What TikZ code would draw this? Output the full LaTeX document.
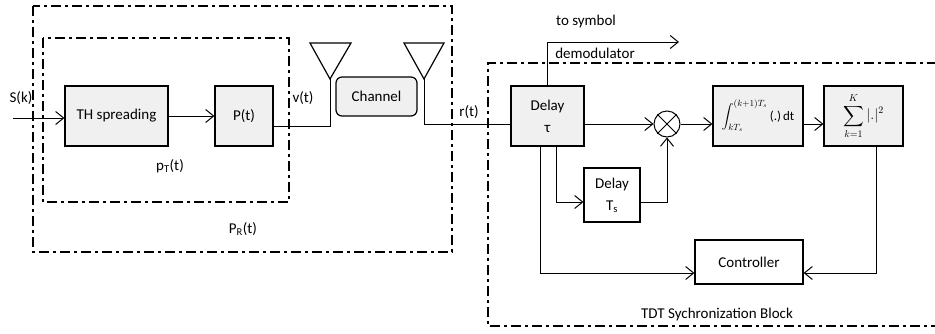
\documentclass[tikz,border=0pt]{standalone}
\usepackage{fontspec}
\setmainfont{Carlito}
\usepackage{amsmath}
\usetikzlibrary{arrows.meta}

\begin{document}
\begin{tikzpicture}[x=1pt,y=-1pt,
							every node/.style={font=\fontsize{15}{22}\selectfont,inner sep=1pt},
							blk/.style={draw,line width=1.2pt,fill=gray!12,align=center},
							wblk/.style={blk,fill=white},
							wire/.style={line width=1pt},
							sig/.style={wire,-{Straight Barb[length=8pt,width=13pt]}},
							%dashbox/.style={dashed},
							dashbox/.style={line width=2.6pt,dash pattern=on 10pt off 4pt on 3pt off 4pt}]
			\useasboundingbox (0,0) rectangle (935,333);
			% dash-dot frames
			\draw[dashbox] (33,6) rectangle (452,252);
			\draw[dashbox] (43,38) rectangle (289,202);
			\draw[dashbox] (937,63) -- (488,63) -- (488,326) -- (937,326);
			% transmitter
			\node[blk,minimum width=103,minimum height=60] (th) at (116.5,116) {TH spreading};
			\node[blk,minimum width=58,minimum height=60] (pt) at (244,116) {P(t)};
			\node[blk,rounded corners=6pt,minimum width=81,minimum height=39] (chan) at (376.5,96.5) {Channel};
			\coordinate (in) at (13,118);
			\coordinate (ant1) at (330,79);
			\coordinate (ant2) at (424,79);
			\draw[line width=1.2pt] (310,43) -- (351,43) -- (ant1) -- cycle;
			\draw[line width=1.2pt] (404,43) -- (444,43) -- (ant2) -- cycle;
			% receiver
			\node[blk,minimum width=73,minimum height=60] (delay) at (547.5,116) {Delay\\τ};
			\node[draw,circle,line width=1pt,minimum size=26,inner sep=0pt] (mult) at (667,124) {};
			\draw[wire] (mult.north west) -- (mult.south east) (mult.north east) -- (mult.south west);
			\node[blk,minimum width=90,minimum height=60] (integ) at (758,116)
				{\fontsize{13}{15}\selectfont$\displaystyle\int_{kT_s}^{(k+1)T_s}$\,(.)\,dt};
			\node[blk,minimum width=79,minimum height=60,inner sep=0pt] (sum) at (863.5,116)
				{\fontsize{14}{16}\selectfont$\displaystyle\sum_{k=1}^{K}|.|^2$};
			\node[wblk,minimum width=56,minimum height=54] (dts) at (612,195) {Delay\\T\textsubscript{s}};
			\node[wblk,minimum width=108,minimum height=44] (ctrl) at (749,262) {Controller};
			\coordinate (demod) at (679,42);
			% connectors
			\draw[sig] (in) -- (th.west |- in);
			\draw[sig] (th) -- (pt);
			\draw[wire] ([yshift=-10pt]pt.east) -| (ant1);
			\draw[wire] (ant2) |- (delay.west |- mult);
			\draw[sig] (delay.north) |- (demod);
			\draw[sig] (delay.east |- mult) -- (mult);
			\draw[sig] (mult) -- (integ.west |- mult);
			\draw[sig] (integ.east |- mult) -- (sum.west |- mult);
			\draw[sig] ([xshift=9pt]delay.south) |- ([yshift=-7pt]dts.west);
			\draw[sig] ([yshift=-7pt]dts.east) -| (mult.south);
			\draw[sig] ([xshift=-7.5pt]delay.south) |- ([yshift=-11pt]ctrl.west);
			\draw[sig] ([xshift=12.5pt]sum.south) |- ([yshift=-11pt]ctrl.east);
			% labels
			\node (sk) at (21,98) {S(k)};
			\node (vt) at (303,98) {v(t)};
			\node (rt) at (469,112) {r(t)};
			\node (ptt) at (170,166) {p\textsubscript{T}(t)};
			\node (prt) at (243,229) {P\textsubscript{R}(t)};
			\node (tosym) at (586,21) {to symbol};
			\node (demodl) at (595,53) {demodulator};
			\node (tdt) at (717,314) {TDT Sychronization Block};
		\end{tikzpicture}
\end{document}
